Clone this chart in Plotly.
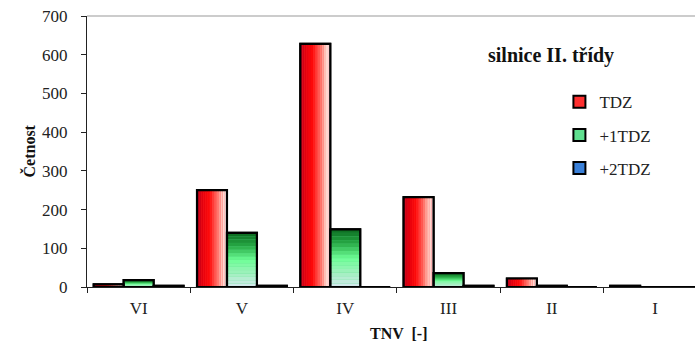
import plotly.graph_objects as go

categories = ["VI", "V", "IV", "III", "II", "I"]
tdz = [7, 250, 628, 232, 22, 3]
tdz1 = [18, 140, 149, 36, 3, 0]
tdz2 = [3, 3, 0, 3, 0, 0]
series_names = ["TDZ", "+1TDZ", "+2TDZ"]

FONT = "Liberation Serif, Times New Roman, serif"
W = 0.29
offsets = [-0.435, -0.145, 0.145]


def lerp_color(stops, t):
    for (t0, c0), (t1, c1) in zip(stops[:-1], stops[1:]):
        if t0 <= t <= t1:
            f = 0 if t1 == t0 else (t - t0) / (t1 - t0)
            c = [round(a + (b - a) * f) for a, b in zip(c0, c1)]
            return "rgb(%d,%d,%d)" % tuple(c)
    c = stops[-1][1]
    return "rgb(%d,%d,%d)" % tuple(c)


red_stops = [(0.0, (185, 0, 30)), (0.2, (230, 0, 12)), (0.42, (255, 10, 10)),
             (0.68, (255, 120, 110)), (0.86, (255, 210, 200)), (1.0, (255, 232, 236))]
green_stops = [(0.0, (10, 105, 30)), (0.25, (40, 170, 70)), (0.5, (110, 255, 150)),
               (0.75, (160, 240, 190)), (1.0, (215, 232, 240))]
blue_stops = [(0.0, (20, 60, 150)), (0.5, (70, 140, 230)), (1.0, (200, 225, 245))]

fig = go.Figure()
series = [tdz, tdz1, tdz2]
base_colors = ["#ff3030", "#60e090", "#3a80d8"]

# Solid base bars (carry the legend)
for i, (vals, name) in enumerate(zip(series, series_names)):
    fig.add_trace(go.Bar(
        x=categories, y=vals, name=name, width=W, offset=offsets[i],
        marker=dict(color=base_colors[i], line=dict(color="black", width=2)),
        legendgroup=name, showlegend=True,
    ))

# Red: horizontal gradient strips
N = 14
for k in range(N):
    fig.add_trace(go.Bar(
        x=categories, y=tdz, width=W / N, offset=offsets[0] + k * W / N,
        marker=dict(color=lerp_color(red_stops, (k + 0.5) / N), line=dict(width=0)),
        showlegend=False, hoverinfo="skip",
    ))

# Green and blue: vertical gradient bands
M = 16
for vals, stops, idx in [(tdz1, green_stops, 1), (tdz2, blue_stops, 2)]:
    for k in range(M):
        t_top = 1 - (k + 1) / M
        fig.add_trace(go.Bar(
            x=categories, y=[v / M for v in vals], base=[v * k / M for v in vals],
            width=W, offset=offsets[idx],
            marker=dict(color=lerp_color(stops, t_top + 0.5 / M), line=dict(width=0)),
            showlegend=False, hoverinfo="skip",
        ))

# Outlines on top
for i, vals in enumerate(series):
    fig.add_trace(go.Bar(
        x=categories, y=vals, width=W, offset=offsets[i],
        marker=dict(color="rgba(0,0,0,0)", line=dict(color="black", width=2.2)),
        showlegend=False, hoverinfo="skip",
    ))

fig.update_layout(
    width=695, height=345,
    margin=dict(l=87, r=0, t=16, b=58),
    paper_bgcolor="white", plot_bgcolor="white",
    barmode="overlay",
    font=dict(family=FONT, size=17, color="#222"),
    showlegend=True,
    legend=dict(x=0.777, y=0.748, xanchor="left", yanchor="top",
                font=dict(family=FONT, size=17, color="#222"),
                tracegroupgap=8, bgcolor="rgba(0,0,0,0)", itemwidth=30),
    xaxis=dict(type="category", range=[-0.5, 5.386], tickson="boundaries",
               ticks="outside", ticklen=5, tickcolor="#222", showline=True,
               linecolor="#222", linewidth=1.2, showgrid=False,
               ticklabelstandoff=5,
               tickfont=dict(family=FONT, size=17, color="#222")),
    yaxis=dict(range=[0, 700], dtick=100, ticks="outside", ticklen=5,
               tickcolor="#222", showline=True, linecolor="#222", linewidth=1.2,
               showgrid=False, zeroline=False, ticklabelstandoff=10,
               tickfont=dict(family=FONT, size=17, color="#222")),
    shapes=[dict(type="line", xref="paper", yref="paper", x0=0, x1=1, y0=1, y1=1,
                 line=dict(color="#999", width=1.2))],
    annotations=[
        dict(text="<b>silnice II. třídy</b>", xref="paper", yref="paper",
             x=(486 - 87) / 608, y=(287 - 55) / 271, xanchor="left", yanchor="middle",
             showarrow=False, font=dict(family=FONT, size=20, color="#111")),
        dict(text="<b>Četnost</b>", xref="paper", yref="paper",
             x=(28 - 87) / 608, y=0.5, xanchor="center", yanchor="middle",
             textangle=-90, showarrow=False, font=dict(family=FONT, size=16, color="#111")),
        dict(text="<b>TNV  [-]</b>", xref="paper", yref="paper",
             x=(398 - 87) / 608, y=-(333 - 287) / 271, xanchor="center", yanchor="middle",
             showarrow=False, font=dict(family=FONT, size=16, color="#111")),
    ],
)

fig.write_html("out.html")
